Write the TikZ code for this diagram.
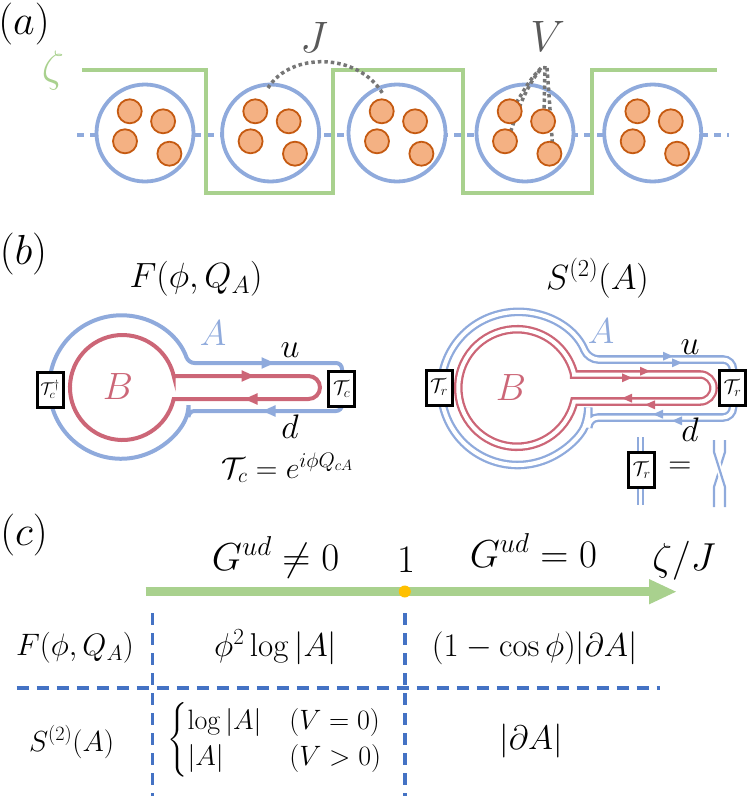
\RequirePackage{fix-cm}
\documentclass[tikz,border=0pt]{standalone}
\usepackage{amsmath}
\usetikzlibrary{arrows.meta}
\definecolor{bl}{RGB}{143,170,220}
\definecolor{rd}{RGB}{204,102,119}
\definecolor{gr}{RGB}{169,209,142}
\definecolor{orf}{RGB}{244,177,131}
\definecolor{ord}{RGB}{197,90,17}
\definecolor{gyl}{RGB}{118,118,118}
\definecolor{gyt}{RGB}{89,89,89}
\definecolor{dbl}{RGB}{68,114,196}
\definecolor{yl}{RGB}{255,192,0}
\newcommand{\fs}[1]{\fontsize{#1}{#1}\selectfont}
\tikzset{
  lbl/.style={anchor=base, font=\fs{42}, inner sep=0pt},
  wave/.style={gr, line width=4pt},
  chain/.style={bl, line width=4pt, dash pattern=on 7pt off 6pt},
  site/.style={bl, line width=3.8pt, fill=white},
  dot/.style={draw=ord, fill=orf, line width=1.8pt},
  hop/.style={gyl, line width=3.5pt, dash pattern=on 3.5pt off 3pt},
  bthick/.style={bl, line width=4pt},
  rthick/.style={rd, line width=4pt},
  bdouble/.style={bl, line width=2.3pt, double=white, double distance=4pt},
  rdouble/.style={rd, line width=2.3pt, double=white, double distance=4pt},
  tbox/.style={draw=black, line width=3pt, fill=white, minimum width=26pt, minimum height=35pt, inner sep=0pt, font=\fs{20}},
  grid/.style={dbl, line width=3.5pt, dash pattern=on 12pt off 8pt},
  strand/.style={bl, line width=2.2pt},
  pics/rtri/.style={code={\fill (#1,0) -- (-#1,-0.9*#1) -- (-#1,0.9*#1) -- cycle;}},
  pics/ltri/.style={code={\fill (-#1,0) -- (#1,-0.9*#1) -- (#1,0.9*#1) -- cycle;}},
}
\begin{document}
\begin{tikzpicture}[x=1pt,y=-1pt]
\useasboundingbox (0,0) rectangle (747,796);
% ---------------- (a)
\node[lbl] (la) at (24,34) {$(a)$};
\node[gr, font=\fs{44}] (zeta) at (53,70) {$\zeta$};
\draw[chain] (77,135) -- (729,135);
\draw[wave] (82,70) -- (206,70) -- (206,193) -- (333,193) -- (333,70) -- (463,70) -- (463,193) -- (592,193) -- (592,70) -- (717,70);
\foreach \cx in {145,270.6,397,525,652.7}{
  \draw[site] (\cx,133) circle (48.5);
}
\draw[hop] (268,88) .. controls (290,52) and (358,52) .. (383,94);
\draw[hop] (541,68) .. controls (530,80) .. (512,110);
\draw[hop] (540,70) .. controls (527,86) and (519,105) .. (508,140);
\draw[hop] (545,66) -- (544,118);
\draw[hop] (547,68) .. controls (549,95) .. (553,152);
\foreach \cx in {145,270.6,397,525,652.7}{
  \foreach \dx/\dy in {-15.3/-21.7, 18.1/-11.7, -20/8.3, 24.4/20.7}{
    \draw[dot] (\cx+\dx,133+\dy) circle (12);
  }
}
\node[gyt, anchor=base, font=\fs{44}] (J) at (314,52) {$J$};
\node[gyt, anchor=base, font=\fs{44}] (V) at (547.6,51) {$V$};
% ---------------- (b) left
\node[lbl] (lb) at (23.5,264) {$(b)$};
\node[font=\fs{35}] (tF) at (196,279) {$F(\phi,Q_A)$};
\draw[bthick, rounded corners=6pt] (188.5,411) -- (342,411) -- (342,363) -- (188.5,363) arc[start angle=-19.6, end angle=-340.4, radius=71.7] -- cycle;
\draw[rthick] (173.7,376) -- (308.5,376) arc[start angle=-90, end angle=90, radius=11.5] -- (173.7,399) arc[start angle=12.65, end angle=347.35, radius=52.5] -- cycle;
\pic[bl] at (268,363) {rtri=6.5};
\pic[bl] at (269,411) {ltri=6.5};
\pic[rd] at (248,376) {rtri=6.5};
\pic[rd] at (251,399) {ltri=6.5};
\node[tbox, font=\fs{17}] (Tl) at (50,389.5) {$\mathcal{T}_c^\dagger$};
\node[tbox] (Tr) at (341.7,389) {$\mathcal{T}_c$};
\node[bl, font=\fs{36}] (Al) at (213,333) {$A$};
\node[font=\fs{34}] (ul) at (290,350) {$u$};
\node[font=\fs{34}] (dl) at (290,427) {$d$};
\node[rd, font=\fs{38}] (Bl) at (118,387) {$B$};
\node[font=\fs{30}] (Tc) at (287.5,468) {$\mathcal{T}_c=e^{i\phi Q_{cA}}$};
% ---------------- (b) right
\node[font=\fs{35}] (tS) at (597.5,278) {$S^{(2)}(A)$};
\draw[bdouble, rounded corners=10pt] (588.3,417.5) -- (733,417.5) -- (733,359.5) -- (588.3,359.5) arc[start angle=-22.28, end angle=-337.72, radius=76.5] -- cycle;
\draw[rdouble] (574.2,374.5) -- (700,374.5) arc[start angle=-90, end angle=90, radius=13.5] -- (574.2,401.5) arc[start angle=13.29, end angle=346.71, radius=58.75] -- cycle;
\pic[bl] at (668,356.2) {rtri=5};
\pic[bl] at (677,362.8) {rtri=5};
\pic[rd] at (645,371.2) {rtri=5};
\pic[rd] at (627,377.8) {rtri=5};
\pic[rd] at (627,398.2) {ltri=5};
\pic[rd] at (650,404.8) {ltri=5};
\pic[bl] at (658,414.2) {ltri=5};
\pic[bl] at (677,420.8) {ltri=5};
\node[tbox] (Rl) at (439,387.5) {$\mathcal{T}_r$};
\node[tbox] (Rr) at (732.5,388) {$\mathcal{T}_r$};
\node[bl, font=\fs{36}] (Ar) at (601,331) {$A$};
\node[font=\fs{34}] (ur) at (690,347) {$u$};
\node[font=\fs{34}] (dr) at (690,430) {$d$};
\node[rd, font=\fs{38}] (Br) at (511,388) {$B$};
% inset
\coordinate (it) at (640.8,437);
\coordinate (ib) at (640.8,505);
\draw[bl, line width=2pt, double=white, double distance=3pt] (it) -- (ib);
\node[tbox] (Ri) at (641.7,470) {$\mathcal{T}_r$};
\node[font=\fs{32}] (eq) at (680,468) {$=$};
\coordinate (c1) at (714,440);
\coordinate (c2) at (725,440);
\draw[strand] (c2) -- (725,452) -- (714,487) -- (714,507);
\draw[strand, preaction={draw=white, line width=6pt}] (c1) -- (714,452) -- (725,487) -- (725,507);
% ---------------- (c)
\node[lbl] (lc) at (24,545.5) {$(c)$};
\draw[gr, line width=9pt] (145.6,591.7) -- (651,591.7);
\fill[gr] (676,591.7) -- (649,579) -- (649,604.4) -- cycle;
\fill[yl] (404.8,591.5) circle (6);
\node[anchor=base, font=\fs{39}] (h1) at (275.6,570) {$G^{ud}\neq0$};
\node[anchor=base, font=\fs{39}] (h2) at (406,572) {$1$};
\node[anchor=base, font=\fs{39}] (h3) at (533.5,567) {$G^{ud}=0$};
\node[anchor=base, font=\fs{39}] (h4) at (684,570) {$\zeta/J$};
\draw[grid] (152.7,613) -- (152.7,796);
\draw[grid] (404.8,613) -- (404.8,796);
\draw[grid] (16.7,688) -- (660,688);
\node[font=\fs{31}] (rF) at (75,648) {$F(\phi,Q_A)$};
\node[font=\fs{33}] (cF1) at (275.6,647) {$\phi^2\log|A|$};
\node[font=\fs{33}] (cF2) at (534.6,648) {$(1-\cos\phi)|\partial A|$};
\node[font=\fs{29}] (rS) at (71.6,742) {$S^{(2)}(A)$};
\node[font=\fontsize{28}{30.5}\selectfont, anchor=west] (cS1) at (164,740) {$\begin{cases}\log|A| & (V=0)\\ |A| & (V>0)\end{cases}$};
\node[font=\fs{34}] (cS2) at (531,741) {$|\partial A|$};
\end{tikzpicture}
\end{document}
